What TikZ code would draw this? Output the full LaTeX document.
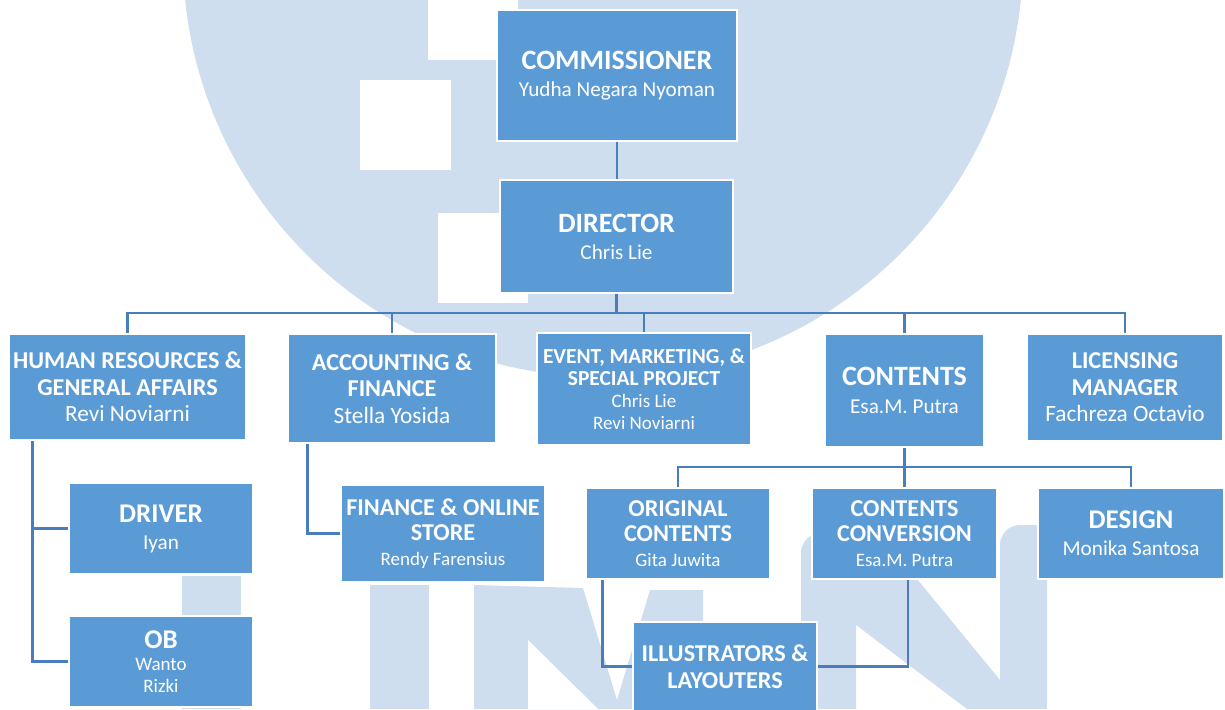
\documentclass[tikz,border=0pt]{standalone}
\usepackage{fontspec}
\setmainfont{Carlito}
\definecolor{boxblue}{RGB}{91,155,213}
\definecolor{lineblue}{RGB}{74,126,187}
\definecolor{wm}{RGB}{206,222,239}
\newcommand\hdXL{\bfseries\fontsize{28}{30}\selectfont}
\newcommand\hdL{\bfseries\fontsize{27}{28}\selectfont}
\newcommand\hdM{\bfseries\fontsize{24.2}{26}\selectfont}
\newcommand\hdS{\bfseries\fontsize{21.4}{23}\selectfont}
\newcommand\nmL{\fontsize{23.3}{26}\selectfont}
\newcommand\nmM{\fontsize{21.2}{26}\selectfont}
\newcommand\nmS{\fontsize{19}{21}\selectfont}
\begin{document}
\begin{tikzpicture}[x=1pt,y=-1pt,
  box/.style={rectangle, draw=white, line width=1.5pt, fill=boxblue, text=white,
              align=center, inner sep=0pt},
  sz/.style 2 args={minimum width=#1pt, minimum height=#2pt},
  bs/.style={font=\fontsize{20}{#1}\selectfont},
  conn/.style={draw=lineblue, line width=2.5pt}]
\useasboundingbox (0,0) rectangle (1225,709);
% watermark
\begin{scope}
\clip (0,0) rectangle (1225,709);
\fill[wm] (603,-43) circle[radius=420pt];
\fill[white] (428,0) rectangle (518,60);
\fill[white] (360,80) rectangle (451,170);
\fill[white] (438,213) rectangle (528,303);
% U
\fill[wm] (182,576) rectangle (241,709);
\fill[wm] (370,585) rectangle (429,709);
% M
\fill[wm] (474,709) -- (474,585) -- (583,588) -- (617,700) -- (650,590) -- (703,590) -- (703,709) -- cycle;
\fill[white] (528,640) -- (528,709) -- (598,709) -- cycle;
% N
\fill[wm] (801,709) -- (801,553) arc[start angle=180, end angle=90, radius=20pt] -- (856,533) -- (856,709) -- cycle;
\fill[wm] (1000,709) -- (1000,545) arc[start angle=180, end angle=90, radius=20pt] -- (1047,525) -- (1047,709) -- cycle;
\fill[wm] (830,540) -- (885,540) -- (1000,680) -- (1000,709) -- (967,709) -- (856,625) -- (830,600) -- cycle;
\end{scope}
% boxes
\node[box, sz={240}{131}, bs=27] (comm) at (617,75.5) {{\hdXL COMMISSIONER}\\{\nmM Yudha Negara Nyoman}};
\node[box, sz={233}{113}, bs=27] (dir) at (616.5,236.5) {{\hdXL DIRECTOR}\\{\nmM Chris Lie}};
\node[box, sz={237}{106}, bs=26.5] (hr) at (127.5,387) {{\hdM HUMAN RESOURCES \&}\\{\hdM GENERAL AFFAIRS}\\{\nmL Revi Noviarni}};
\node[box, sz={208}{109}, bs=26.5] (acc) at (392,388.5) {{\hdM ACCOUNTING \&}\\{\hdM FINANCE}\\{\nmL Stella Yosida}};
\node[box, sz={214}{112}, bs=22] (event) at (644,389) {{\hdS EVENT, MARKETING, \&}\\{\hdS SPECIAL PROJECT}\\{\nmS Chris Lie}\\{\nmS Revi Noviarni}};
\node[box, sz={159}{113}, bs=28] (cont) at (904.5,390.5) {{\hdXL CONTENTS}\\{\nmM Esa.M. Putra}};
\node[box, sz={196}{107}, bs=26.5] (lic) at (1125,387.5) {{\hdM LICENSING}\\{\hdM MANAGER}\\{\nmL Fachreza Octavio}};
\node[box, sz={184}{91}, bs=27] (driver) at (161,528.5) {{\hdL DRIVER}\\{\nmM Iyan}};
\node[box, sz={184}{91}, bs=22] (ob) at (161,661.5) {{\hdL OB}\\{\nmS Wanto}\\{\nmS Rizki}};
\node[box, sz={204}{97}, bs=25] (fin) at (443,533.5) {{\hdM FINANCE \& ONLINE}\\{\hdM STORE}\\{\nmS Rendy Farensius}};
\node[box, sz={184}{91}, bs=25] (orig) at (678,533.5) {{\hdM ORIGINAL}\\{\hdM CONTENTS}\\{\nmS Gita Juwita}};
\node[box, sz={185}{91}, bs=25] (conv) at (904.5,533.5) {{\hdM CONTENTS}\\{\hdM CONVERSION}\\{\nmS Esa.M. Putra}};
\node[box, sz={186}{91}, bs=27] (design) at (1131,533.5) {{\hdL DESIGN}\\{\nmM Monika Santosa}};
\node[box, sz={184}{89}, bs=27] (illu) at (725,666.5) {{\hdM ILLUSTRATORS \&}\\{\hdM LAYOUTERS}};
% connectors
\coordinate (bus) at (616.5,313);
\coordinate (sbus) at (904.5,467);
\draw[conn] (comm.south) -- (comm.south |- dir.north);
\draw[conn] (dir.south) -- (bus);
\draw[conn] (hr.north) |- (bus) -| (lic.north);
\draw[conn] (acc.north) -- (acc.north |- bus);
\draw[conn] (event.north) -- (event.north |- bus);
\draw[conn] (cont.north) -- (cont.north |- bus);
\draw[conn] (cont.south) -- (sbus);
\draw[conn] (orig.north) |- (sbus) -| (design.north);
\draw[conn] (conv.north) -- (conv.north |- sbus);
\draw[conn] ([xshift=24pt]hr.south west) |- (ob.west);
\draw[conn] ([xshift=24pt]hr.south west |- driver.west) -- (driver.west);
\draw[conn] ([xshift=20pt]acc.south west) |- (fin.west);
\draw[conn] ([xshift=17pt]orig.south west) |- (illu.west);
\draw[conn] ([xshift=3.5pt]conv.south) |- (illu.east);
\end{tikzpicture}
\end{document}
